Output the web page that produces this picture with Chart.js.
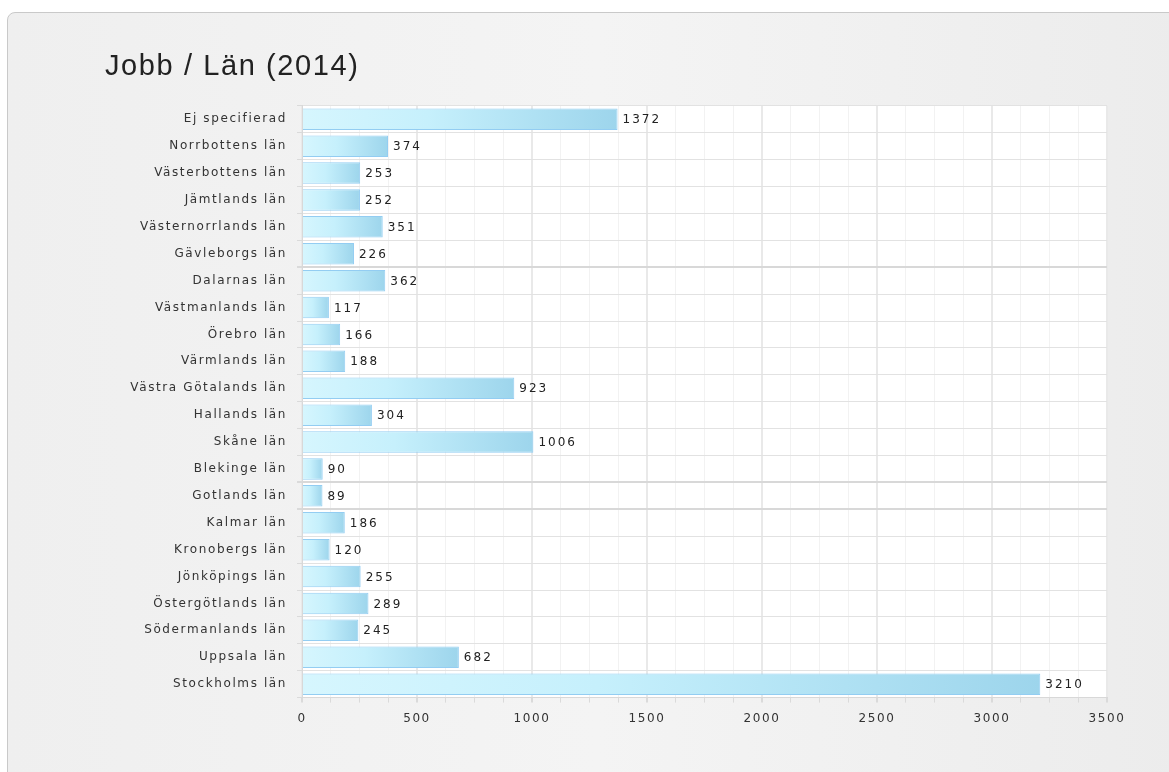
<!DOCTYPE html>
<html>
<head>
<meta charset="utf-8">
<script src="https://cdn.jsdelivr.net/npm/chart.js@4"></script>
<style>
  html, body { margin: 0; padding: 0; background: #fff; }
  body { width: 1169px; height: 772px; position: relative; overflow: hidden; }
  #panel {
    position: absolute; left: 7px; top: 12px; width: 1180px; height: 780px;
    border: 1px solid #c9c9c9; border-radius: 8px; box-sizing: border-box;
    background: linear-gradient(to right, #efefef 0%, #f4f4f4 50%, #ececec 100%);
  }
  #wrap { position: absolute; left: 0; top: 0; width: 1169px; height: 772px; }
</style>
</head>
<body>
<div id="panel"></div>
<div id="wrap"><canvas id="myChart"></canvas></div>
<script>
// data
const categories = [
    'Ej specifierad', 'Norrbottens län', 'Västerbottens län', 'Jämtlands län',
    'Västernorrlands län', 'Gävleborgs län', 'Dalarnas län', 'Västmanlands län',
    'Örebro län', 'Värmlands län', 'Västra Götalands län', 'Hallands län',
    'Skåne län', 'Blekinge län', 'Gotlands län', 'Kalmar län', 'Kronobergs län',
    'Jönköpings län', 'Östergötlands län', 'Södermanlands län', 'Uppsala län',
    'Stockholms län'
];
const jobs = [1372, 374, 253, 252, 351, 226, 362, 117, 166, 188, 923, 304,
    1006, 90, 89, 186, 120, 255, 289, 245, 682, 3210];
const xTicks = [0, 500, 1000, 1500, 2000, 2500, 3000, 3500];

const labelFont = { family: 'DejaVu Sans', size: 12 };

// white plot background + wide letter spacing like the original
const plotBg = {
    id: 'plotBg',
    beforeDraw(chart) {
        const a = chart.chartArea;
        const ctx = chart.ctx;
        ctx.letterSpacing = '1.6px';
        ctx.save();
        ctx.fillStyle = '#ffffff';
        ctx.fillRect(a.left, a.top, a.right - a.left, a.bottom - a.top);
        ctx.restore();
    }
};

// value text after each bar
const valueLabels = {
    id: 'valueLabels',
    afterDatasetsDraw(chart) {
        const ctx = chart.ctx;
        const meta = chart.getDatasetMeta(0);
        ctx.save();
        ctx.letterSpacing = '2px';
        ctx.font = '12px "DejaVu Sans"';
        ctx.fillStyle = '#222';
        ctx.textBaseline = 'middle';
        meta.data.forEach((bar, i) => {
            ctx.fillText(jobs[i], bar.x + 5, bar.y + 1);
        });
        ctx.restore();
    }
};

function barGradient(context) {
    const chart = context.chart;
    const x = chart.scales.x;
    if (!x || !chart.chartArea) return '#bfeaf8';
    const v = jobs[context.dataIndex];
    const x0 = x.getPixelForValue(0);
    const x1 = x.getPixelForValue(v);
    if (!isFinite(x0) || !isFinite(x1) || x1 <= x0) return '#bfeaf8';
    const g = chart.ctx.createLinearGradient(x0, 0, x1, 0);
    g.addColorStop(0, '#d6f6fe');
    g.addColorStop(0.4, '#c6f0fc');
    g.addColorStop(1, '#9dd5ec');
    return g;
}

const data = {
    labels: categories,
    datasets: [{
        label: 'Jobb',
        data: jobs,
        backgroundColor: barGradient,
        borderColor: '#93cdf2',
        borderWidth: 1,
        borderSkipped: 'start',
        barPercentage: 0.8,
        categoryPercentage: 1.0
    }]
};

const config = {
    type: 'bar',
    data,
    plugins: [plotBg, valueLabels],
    options: {
        indexAxis: 'y',
        responsive: false,
        animation: false,
        devicePixelRatio: 1,
        layout: { padding: { left: 105, top: 50, right: 62, bottom: 37 } },
        plugins: {
            legend: { display: false },
            tooltip: { enabled: false },
            title: {
                display: true,
                text: 'Jobb / Län (2014)',
                align: 'start',
                color: '#222',
                font: { family: 'Liberation Sans', size: 29, weight: 'normal' },
                padding: { top: 0, bottom: 21 }
            }
        },
        scales: {
            x: {
                min: 0,
                max: 3500,
                afterBuildTicks(scale) {
                    const t = [];
                    for (let i = 0; i < xTicks.length - 1; i++) {
                        for (let k = 0; k < 4; k++) {
                            t.push({ value: xTicks[i] + (xTicks[i + 1] - xTicks[i]) * k / 4 });
                        }
                    }
                    t.push({ value: xTicks[xTicks.length - 1] });
                    scale.ticks = t;
                },
                ticks: {
                    autoSkip: false,
                    maxRotation: 0,
                    color: '#333',
                    font: labelFont,
                    padding: 9,
                    callback: v => xTicks.includes(v) ? v : ''
                },
                grid: {
                    color: c => (c.tick && xTicks.includes(c.tick.value)) ? '#e9e9e9' : '#f2f2f2',
                    lineWidth: c => (c.tick && xTicks.includes(c.tick.value)) ? 2 : 1,
                    tickColor: '#dadada',
                    tickLength: 5
                },
                border: { color: '#d8d8d8' }
            },
            y: {
                afterFit(scale) { scale.width = 197; },
                ticks: {
                    color: '#333',
                    font: labelFont,
                    padding: 10
                },
                grid: {
                    offset: true,
                    color: c => [6, 14, 15].includes(c.index) ? '#d8d8d8' : '#e2e2e2',
                    lineWidth: c => [6, 14, 15].includes(c.index) ? 2 : 1,
                    tickColor: '#dadada',
                    tickLength: 5
                },
                border: { color: '#d8d8d8' }
            }
        }
    }
};

const canvas = document.getElementById('myChart');
canvas.width = 1169;
canvas.height = 772;
var myChart = new Chart(canvas, config);
</script>
</body>
</html>
